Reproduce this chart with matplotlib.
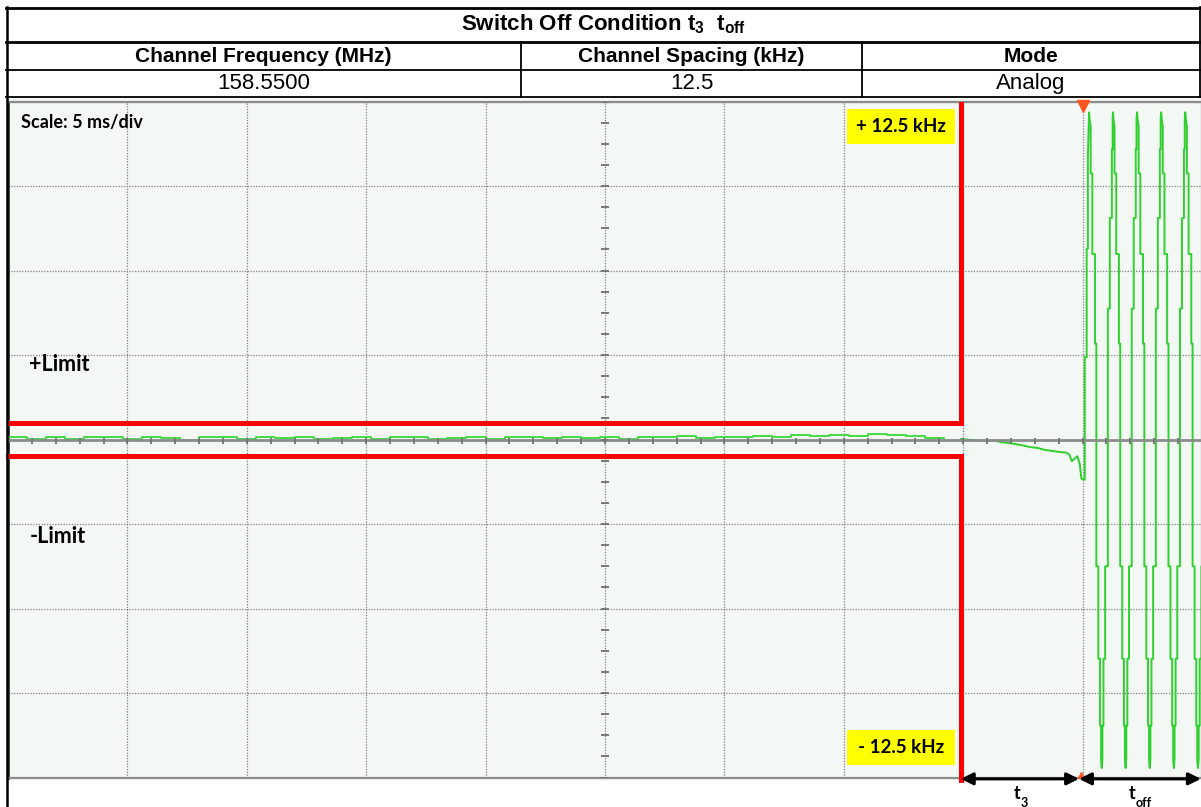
import numpy as np
import matplotlib.pyplot as plt
from matplotlib.patches import Rectangle

plt.rcParams['font.family'] = ['Liberation Sans', 'DejaVu Sans']
plt.rcParams['mathtext.fontset'] = 'custom'
plt.rcParams['mathtext.rm'] = 'Liberation Sans'
plt.rcParams['mathtext.bf'] = 'Liberation Sans:bold'

W, H = 1201, 807

# header table
title = r'Switch Off Condition $\mathbf{t_3}$  $\mathbf{t_{off}}$'
col_names = ['Channel Frequency (MHz)', 'Channel Spacing (kHz)', 'Mode']
col_values = ['158.5500', '12.5', 'Analog']
col_edges = [6, 521, 862, 1200]

# scope settings: 5 ms/div over 10 div, 12.5 kHz over 4 div
ms_per_div = 5
khz_per_div = 3.125
limit_khz = 0.625
t_switch = 39.9
t_trigger = 45.0

# residual deviation while carrier is on (kHz)
noise_t = np.linspace(0, 39.2, 50)
noise_v = [0.08, 0.02, 0.10, 0.01, 0.09, 0.11, 0.03, 0.10, 0.06, 0.00,
           0.11, 0.08, 0.02, 0.10, 0.04, 0.09, 0.01, 0.06, 0.10, 0.03,
           0.08, 0.11, 0.02, 0.05, 0.10, 0.01, 0.08, 0.10, 0.04, 0.09,
           0.06, 0.11, 0.03, 0.10, 0.08, 0.12, 0.05, 0.11, 0.09, 0.13,
           0.10, 0.15, 0.12, 0.18, 0.14, 0.19, 0.15, 0.12, 0.07, 0.03]

# drift after switch-off, up to the trigger point
drift_t = [39.9, 40.4, 40.9, 41.3, 41.6, 41.9, 42.2, 42.5, 42.8, 43.1, 43.4,
           43.7, 44.0, 44.3, 44.45, 44.55, 44.65, 44.78, 44.88, 44.95, 45.09,
           45.09, 45.17, 45.17, 45.22, 45.22]
drift_v = [0.02, -0.02, -0.05, -0.04, -0.10, -0.13, -0.17, -0.22, -0.28, -0.31,
           -0.38, -0.42, -0.46, -0.48, -0.56, -0.80, -0.72, -0.62, -0.90, -1.45,
           -1.49, 3.04, 3.04, 7.05, 7.05, 10.41]

# one period of the stepped tone, offsets from its peak (ms, kHz)
cycle_dt = np.array([0.000, 0.034, 0.067, 0.067, 0.138, 0.138, 0.251, 0.251,
                     0.306, 0.306, 0.389, 0.389, 0.461, 0.461, 0.503, 0.503,
                     0.532, 0.561, 0.561, 0.603, 0.603, 0.674, 0.674, 0.787,
                     0.787, 0.871, 0.871, 0.955, 0.955, 0.988, 0.988])
cycle_v = np.array([12.10, 11.76, 11.58, 9.84, 9.84, 6.86, 6.86, 3.55,
                    3.55, -4.69, -4.69, -8.11, -8.11, -10.58, -10.58, -11.87,
                    -12.15, -11.79, -10.58, -10.58, -8.11, -8.11, -4.69, -4.69,
                    4.84, 4.84, 8.19, 8.19, 10.73, 10.73, 11.87])
cycle_peaks = [45.27, 46.27, 47.28, 48.29, 49.30]

wave_t = np.concatenate([drift_t] + [p + cycle_dt for p in cycle_peaks])
wave_v = np.concatenate([drift_v] + [cycle_v for p in cycle_peaks])

fig = plt.figure(figsize=(W / 100, H / 100), dpi=100)
fig.patch.set_facecolor('white')

# screen background
fig.patches.append(Rectangle((7 / W, 1 - 781 / H), 1, (781 - 97) / H,
                             transform=fig.transFigure, facecolor='#f4f8f4',
                             edgecolor='none', zorder=-1))

ax = fig.add_axes([8 / W, 1 - 777.5 / H, 1194 / W, 676 / H])
ax.set_facecolor('#f4f8f4')
ax.set_xlim(0, 10 * ms_per_div)
ax.set_ylim(-4 * khz_per_div, 4 * khz_per_div)
ax.set_xticks(np.arange(0, 10 * ms_per_div + 1, ms_per_div))
ax.set_yticks(np.arange(-4, 5) * khz_per_div)
ax.tick_params(length=0, labelbottom=False, labelleft=False)
ax.grid(True, color='#808080', linestyle=(0, (1, 1.2)), linewidth=0.9)
for side in ['top', 'bottom', 'right']:
    ax.spines[side].set_color('#8c8c8c')
    ax.spines[side].set_linewidth(1.6)
ax.spines['left'].set_color('#333333')
ax.spines['left'].set_linewidth(2)

# centre graticule with sub-division ticks
ax.axhline(0, color='#8c8c8c', lw=2, zorder=4)
minor_x = np.arange(0, 50.01, 1.0)
ax.vlines(minor_x, -0.16, 0.04, color='#777777', lw=1.4, zorder=4)
minor_y = np.arange(-12.5, 12.51, khz_per_div / 4)
ax.hlines(minor_y, 24.85, 25.15, color='#777777', lw=1.4, zorder=4)

# measured frequency deviation
ax.plot(noise_t, noise_v, color='#38d838', lw=1.3, drawstyle='steps-post', zorder=3)
ax.plot(wave_t, wave_v, color='#30d030', lw=1.4, zorder=3)

# limit mask
ax.plot([0, t_switch, t_switch], [limit_khz, limit_khz, 12.5],
        color='#ff0000', lw=3.6, solid_joinstyle='miter', zorder=5)
ax.plot([0, t_switch, t_switch], [-limit_khz, -limit_khz, -12.6],
        color='#ff0000', lw=3.6, solid_joinstyle='miter', zorder=5, clip_on=False)

# trigger markers
ax.plot([t_trigger], [12.33], marker='v', color='#ff5522', markersize=8,
        zorder=6, clip_on=False)
ax.plot([t_trigger - 0.05], [-12.4], marker='^', color='#ff5522', markersize=5,
        zorder=6, clip_on=False)

label_font = dict(family=['Lato', 'DejaVu Sans'], fontweight='bold', color='black')
ax.text(0.55, 11.72, 'Scale: 5 ms/div', fontsize=13, va='center', ha='left', **label_font)
ax.text(0.9, 2.78, '+Limit', fontsize=15.5, va='center', ha='left', **label_font)
ax.text(0.9, -3.59, '-Limit', fontsize=15.5, va='center', ha='left', **label_font)

for y0, y1, txt in [(10.91, 12.24, '+ 12.5 kHz'), (-12.05, -10.73, '- 12.5 kHz')]:
    ax.add_patch(Rectangle((35.13, y0), 4.53, y1 - y0, facecolor='#ffff00',
                           edgecolor='none', zorder=5))
    ax.text(37.4, (y0 + y1) / 2, txt, fontsize=13.5, ha='center', va='center',
            zorder=6, **label_font)

# t3 / toff intervals
y_arr = -12.55
arrow = dict(arrowstyle='<|-|>', color='black', lw=2.2, mutation_scale=18,
             shrinkA=0, shrinkB=0)
ax.annotate('', xy=(t_switch, y_arr), xytext=(t_trigger - 0.15, y_arr),
            arrowprops=arrow, annotation_clip=False, zorder=7)
ax.annotate('', xy=(t_trigger - 0.15, y_arr), xytext=(49.95, y_arr),
            arrowprops=arrow, annotation_clip=False, zorder=7)

for tx, sub in [((t_switch + t_trigger) / 2 - 0.05, '3'), ((t_trigger + 50) / 2 - 0.3, 'off')]:
    base = ax.text(tx, -13.1, 't', fontsize=13, ha='right', va='center',
                   **label_font)
    ax.annotate(sub, xy=(1, 0), xycoords=base, xytext=(0.3, -0.5),
                textcoords='offset points', fontsize=9, ha='left', va='center',
                annotation_clip=False, **label_font)

# header table drawn in pixel coordinates
tab = fig.add_axes([0, 0, 1, 1])
tab.set_xlim(0, W)
tab.set_ylim(H, 0)
tab.axis('off')
tab.patch.set_alpha(0)

tab.plot([6, 1201], [7.5, 7.5], color='black', lw=2)
tab.plot([6, 1201], [41.5, 41.5], color='black', lw=2)
tab.plot([6, 1201], [70, 70], color='black', lw=1.3)
tab.plot([6, 1201], [96.5, 96.5], color='black', lw=1.3)
tab.plot([6.5, 6.5], [7, H], color='black', lw=1.8)
tab.plot([1200, 1200], [7, 97], color='black', lw=1.3)
for x in col_edges[1:3]:
    tab.plot([x, x], [41.5, 96.5], color='black', lw=1.3)

tab.text(603, 24.5, title, fontsize=16, fontweight='bold', ha='center', va='center')
for i, (name, val) in enumerate(zip(col_names, col_values)):
    xc = (col_edges[i] + col_edges[i + 1]) / 2
    tab.text(xc, 56, name, fontsize=15, fontweight='bold', ha='center', va='center')
    tab.text(xc, 83.5, val, fontsize=16, ha='center', va='center')

fig.savefig('out.png', dpi=100)
